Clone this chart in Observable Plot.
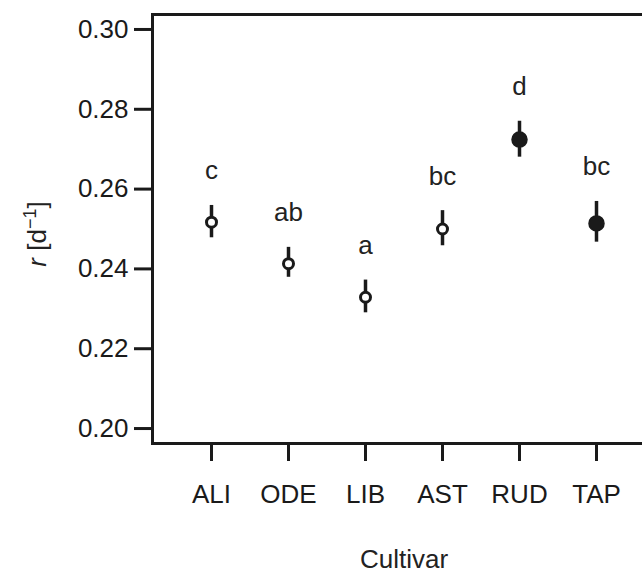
<!DOCTYPE html>
<html>
<head>
<meta charset="utf-8">
<script src="https://cdn.jsdelivr.net/npm/d3@7"></script>
<script src="https://cdn.jsdelivr.net/npm/@observablehq/plot@0.6"></script>
<style>
  html, body { margin: 0; padding: 0; overflow: hidden; background: white; }
  svg { max-width: none !important; }
</style>
</head>
<body>
<div id="chart"></div>
<script>
const cultivars = ["ALI", "ODE", "LIB", "AST", "RUD", "TAP"];
const means  = [0.2517, 0.2413, 0.2329, 0.2500, 0.2724, 0.2514];
const lower  = [0.2478, 0.2379, 0.2290, 0.2458, 0.2680, 0.2467];
const upper  = [0.2559, 0.2454, 0.2372, 0.2546, 0.2770, 0.2569];
const letters = ["c", "ab", "a", "bc", "d", "bc"];
const filled = [false, false, false, false, true, true];
const yTicks = [0.20, 0.22, 0.24, 0.26, 0.28, 0.30];

const data = cultivars.map((c, i) => ({
  cultivar: c, mean: means[i], lo: lower[i], hi: upper[i],
  letter: letters[i], filled: filled[i]
}));

const ink = "#1a1a1a";

const chart = Plot.plot({
  width: 655,
  height: 572,
  marginLeft: 152,
  marginRight: 0,
  marginTop: 14,
  marginBottom: 129,
  style: { fontFamily: "'Liberation Sans', Arial, sans-serif", fontSize: "26px", color: ink, background: "white" },
  x: { type: "point", domain: cultivars, padding: 0.74 },
  y: { domain: [0.19625, 0.30375] },
  marks: [
    Plot.frame({ stroke: ink, strokeWidth: 3 }),
    Plot.axisY({ ticks: yTicks, tickFormat: d3.format(".2f"), tickSize: 18, tickPadding: 6, strokeWidth: 3, label: null, fontSize: 26 }),
    Plot.axisX({ tickSize: 18, tickPadding: 23, strokeWidth: 3, label: null, fontSize: 26 }),
    Plot.ruleX(data, { x: "cultivar", y1: "lo", y2: "hi", stroke: ink, strokeWidth: 3.5 }),
    Plot.dot(data.filter(d => !d.filled), { x: "cultivar", y: "mean", r: 5, fill: "white", stroke: ink, strokeWidth: 3 }),
    Plot.dot(data.filter(d => d.filled), { x: "cultivar", y: "mean", r: 7.5, fill: ink, stroke: ink, strokeWidth: 1.5 }),
    Plot.text(data, { x: "cultivar", y: "hi", text: "letter", dy: -26, lineAnchor: "bottom", fontSize: 26, fill: "#222" }),
    Plot.text(["Cultivar"], { frameAnchor: "bottom", text: d => d, dy: 124, lineAnchor: "bottom", fontSize: 26, fill: "#222" }),
    Plot.text(["YLABEL"], { frameAnchor: "left", text: d => d, dx: -115, dy: 5, rotate: -90, textAnchor: "middle", lineAnchor: "middle", fontSize: 26, fill: "#222" })
  ]
});

document.getElementById("chart").appendChild(chart);

d3.select(chart).selectAll("text").filter(function () { return this.textContent === "YLABEL"; })
  .each(function () {
    const t = d3.select(this);
    t.text(null);
    t.append("tspan").attr("font-style", "italic").text("r");
    t.append("tspan").text(" [d");
    t.append("tspan").attr("dy", "-10").attr("font-size", "18").text("\u22121");
    t.append("tspan").attr("dy", "10").text("]");
  });
</script>
</body>
</html>
